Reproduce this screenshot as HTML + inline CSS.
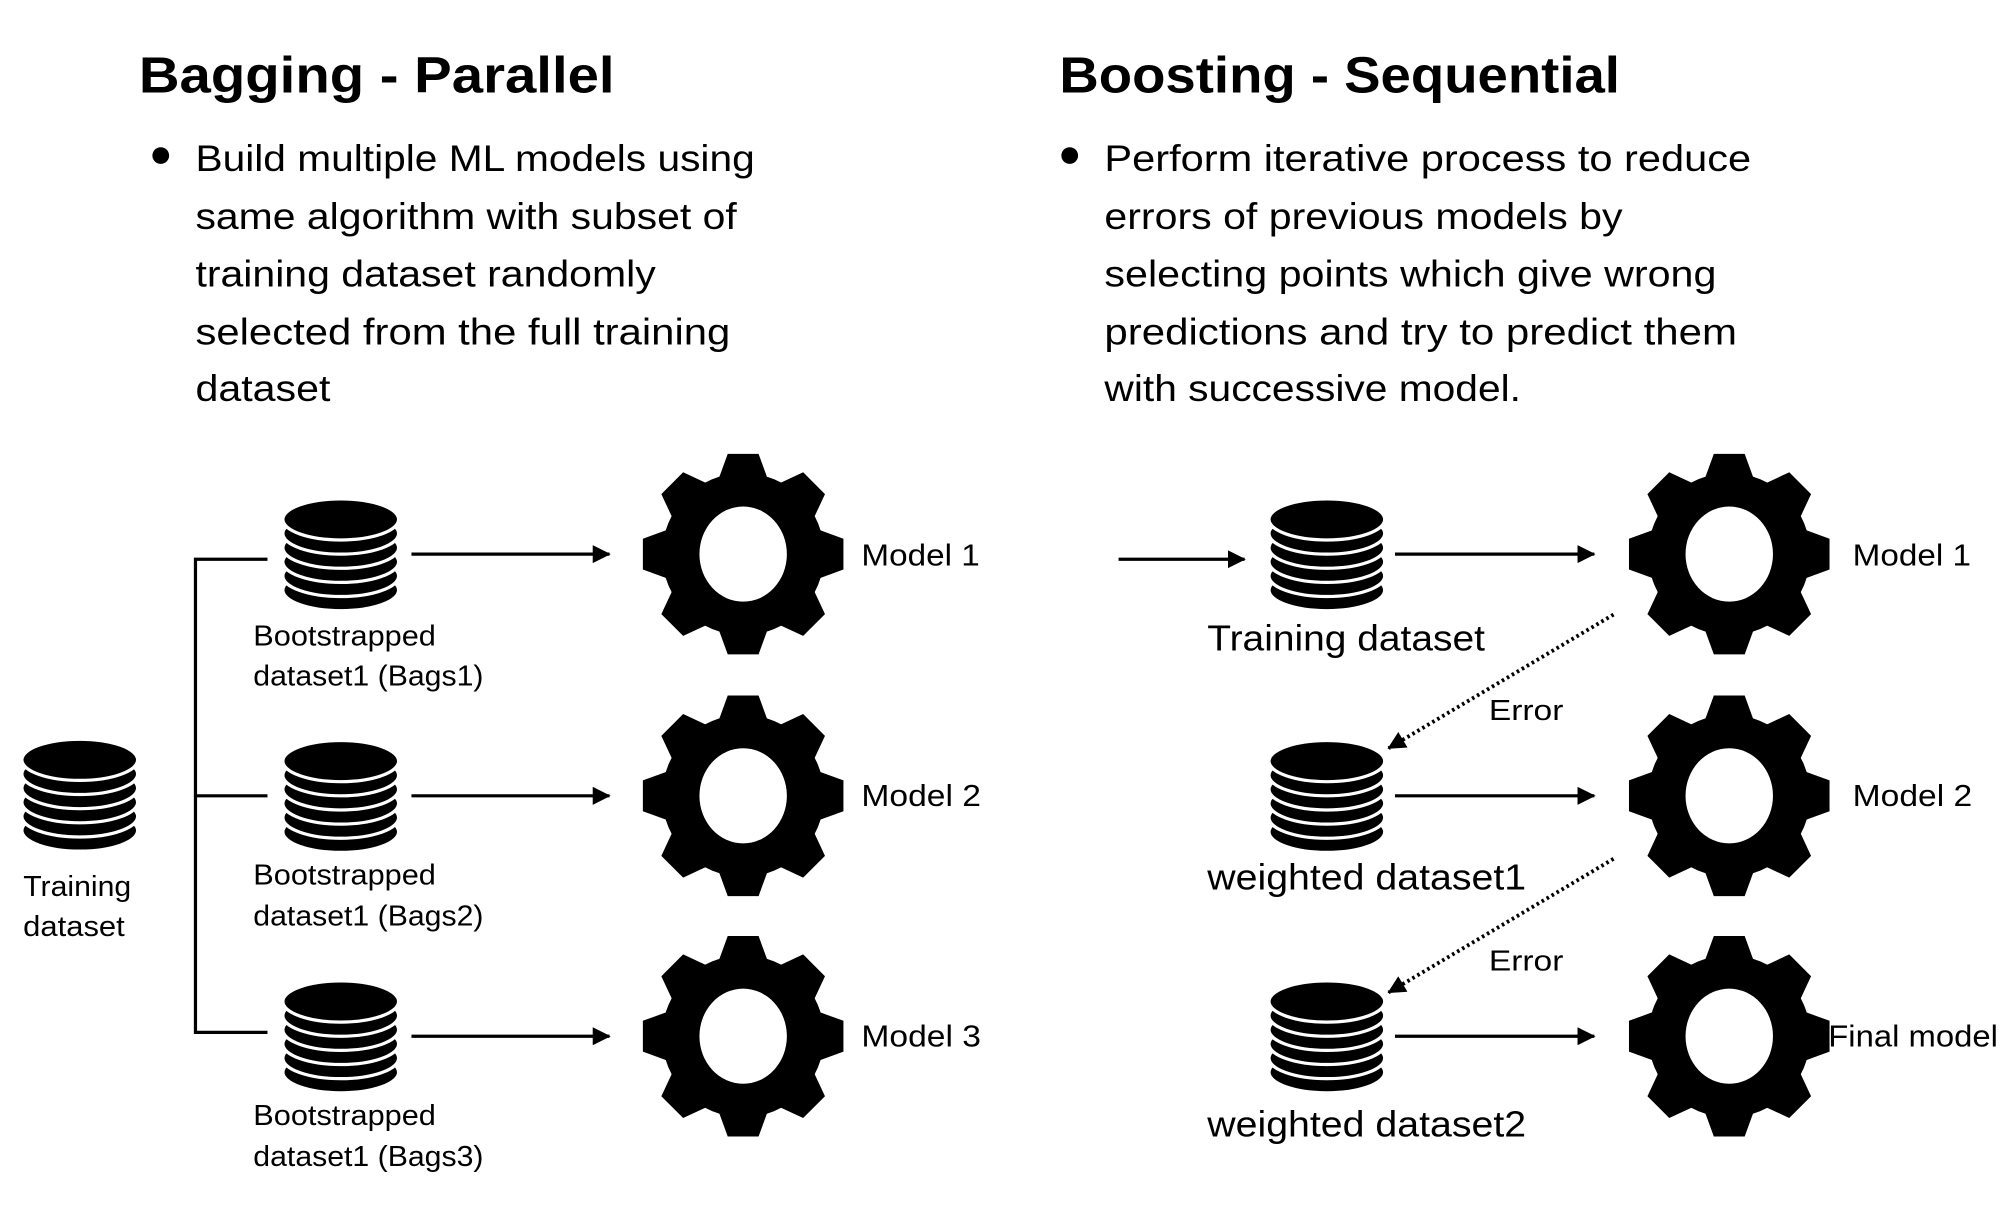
<!DOCTYPE html>
<html><head><meta charset="utf-8"><style>
html,body{margin:0;padding:0;background:#fff;}
svg{display:block;}
text{font-family:"Liberation Sans",sans-serif;fill:#000;}
</style></head><body>
<svg width="2016" height="1226" viewBox="0 0 1568 953.6" xmlns="http://www.w3.org/2000/svg">
<defs>
<g id="gear">
  <circle r="63" fill="#000"/>
  <g fill="#000">
    <polygon points="-20,-56 -12,-78 12,-78 20,-56"/>
    <polygon points="-20,-56 -12,-78 12,-78 20,-56" transform="rotate(45)"/>
    <polygon points="-20,-56 -12,-78 12,-78 20,-56" transform="rotate(90)"/>
    <polygon points="-20,-56 -12,-78 12,-78 20,-56" transform="rotate(135)"/>
    <polygon points="-20,-56 -12,-78 12,-78 20,-56" transform="rotate(180)"/>
    <polygon points="-20,-56 -12,-78 12,-78 20,-56" transform="rotate(225)"/>
    <polygon points="-20,-56 -12,-78 12,-78 20,-56" transform="rotate(270)"/>
    <polygon points="-20,-56 -12,-78 12,-78 20,-56" transform="rotate(315)"/>
  </g>
  <ellipse rx="34" ry="37" fill="#fff"/>
</g>
<g id="db" stroke="#fff" stroke-width="2.5" fill="#000">
  <ellipse cx="0" cy="71" rx="45" ry="16"/>
  <ellipse cx="0" cy="60" rx="45" ry="16"/>
  <ellipse cx="0" cy="49" rx="45" ry="16"/>
  <ellipse cx="0" cy="38" rx="45" ry="16"/>
  <ellipse cx="0" cy="27" rx="45" ry="16"/>
  <ellipse cx="0" cy="16" rx="45" ry="16"/>
</g>
<marker id="ah2" markerWidth="14" markerHeight="14" refX="13" refY="7" orient="auto" markerUnits="userSpaceOnUse" viewBox="0 0 14 14">
  <path d="M0,0 L14,7 L0,14 z" fill="#000"/>
</marker>
</defs>

<text x="108" y="72" font-size="40" font-weight="bold" textLength="370" lengthAdjust="spacingAndGlyphs">Bagging - Parallel</text>
<text x="824" y="72" font-size="40" font-weight="bold" textLength="436" lengthAdjust="spacingAndGlyphs">Boosting - Sequential</text>

<circle cx="125" cy="121" r="6.5" fill="#000"/>
<g font-size="29">
<text x="152" y="133" textLength="435" lengthAdjust="spacingAndGlyphs">Build multiple ML models using</text>
<text x="152" y="178" textLength="421" lengthAdjust="spacingAndGlyphs">same algorithm with subset of</text>
<text x="152" y="223" textLength="358" lengthAdjust="spacingAndGlyphs">training dataset randomly</text>
<text x="152" y="268" textLength="416" lengthAdjust="spacingAndGlyphs">selected from the full training</text>
<text x="152" y="312" textLength="105" lengthAdjust="spacingAndGlyphs">dataset</text>
</g>
<circle cx="832" cy="121" r="6.5" fill="#000"/>
<g font-size="29">
<text x="859" y="133" textLength="503" lengthAdjust="spacingAndGlyphs">Perform iterative process to reduce</text>
<text x="859" y="178" textLength="403" lengthAdjust="spacingAndGlyphs">errors of previous models by</text>
<text x="859" y="223" textLength="476" lengthAdjust="spacingAndGlyphs">selecting points which give wrong</text>
<text x="859" y="268" textLength="492" lengthAdjust="spacingAndGlyphs">predictions and try to predict them</text>
<text x="859" y="312" textLength="324" lengthAdjust="spacingAndGlyphs">with successive model.</text>
</g>

<use href="#db" x="62" y="575"/>
<text x="18" y="697" font-size="22" textLength="84" lengthAdjust="spacingAndGlyphs">Training</text>
<text x="18" y="728" font-size="22" textLength="79" lengthAdjust="spacingAndGlyphs">dataset</text>

<path d="M208,435 H152 V803 H208 M152,619 H208" fill="none" stroke="#000" stroke-width="2.5"/>

<use href="#db" x="265" y="388"/>
<use href="#db" x="265" y="576"/>
<use href="#db" x="265" y="763"/>
<g font-size="22">
<text x="197" y="502" textLength="142" lengthAdjust="spacingAndGlyphs">Bootstrapped</text>
<text x="197" y="533" textLength="179" lengthAdjust="spacingAndGlyphs">dataset1 (Bags1)</text>
<text x="197" y="688" textLength="142" lengthAdjust="spacingAndGlyphs">Bootstrapped</text>
<text x="197" y="720" textLength="179" lengthAdjust="spacingAndGlyphs">dataset1 (Bags2)</text>
<text x="197" y="875" textLength="142" lengthAdjust="spacingAndGlyphs">Bootstrapped</text>
<text x="197" y="907" textLength="179" lengthAdjust="spacingAndGlyphs">dataset1 (Bags3)</text>
</g>
<g stroke="#000" stroke-width="2.5" marker-end="url(#ah2)">
<line x1="320" y1="431" x2="474" y2="431"/>
<line x1="320" y1="619" x2="474" y2="619"/>
<line x1="320" y1="806" x2="474" y2="806"/>
</g>
<use href="#gear" x="578" y="431"/>
<use href="#gear" x="578" y="619"/>
<use href="#gear" x="578" y="806"/>
<g font-size="24">
<text x="670" y="440" textLength="92" lengthAdjust="spacingAndGlyphs">Model 1</text>
<text x="670" y="627" textLength="93" lengthAdjust="spacingAndGlyphs">Model 2</text>
<text x="670" y="814" textLength="93" lengthAdjust="spacingAndGlyphs">Model 3</text>
</g>

<g stroke="#000" stroke-width="2.5" marker-end="url(#ah2)">
<line x1="870" y1="435" x2="968" y2="435"/>
<line x1="1085" y1="431" x2="1240" y2="431"/>
<line x1="1085" y1="619" x2="1240" y2="619"/>
<line x1="1085" y1="806" x2="1240" y2="806"/>
</g>
<g stroke="#000" stroke-width="3" stroke-dasharray="2,2.5" marker-end="url(#ah2)">
<line x1="1255" y1="478" x2="1080" y2="582"/>
<line x1="1255" y1="668" x2="1080" y2="772"/>
</g>
<use href="#db" x="1032" y="388"/>
<use href="#db" x="1032" y="576"/>
<use href="#db" x="1032" y="763"/>
<g font-size="28">
<text x="939" y="506" textLength="216" lengthAdjust="spacingAndGlyphs">Training dataset</text>
<text x="939" y="692" textLength="248" lengthAdjust="spacingAndGlyphs">weighted dataset1</text>
<text x="939" y="884" textLength="248" lengthAdjust="spacingAndGlyphs">weighted dataset2</text>
</g>
<g font-size="22">
<text x="1158" y="560" textLength="58" lengthAdjust="spacingAndGlyphs">Error</text>
<text x="1158" y="755" textLength="58" lengthAdjust="spacingAndGlyphs">Error</text>
</g>
<use href="#gear" x="1345" y="431"/>
<use href="#gear" x="1345" y="619"/>
<use href="#gear" x="1345" y="806"/>
<g font-size="24">
<text x="1441" y="440" textLength="92" lengthAdjust="spacingAndGlyphs">Model 1</text>
<text x="1441" y="627" textLength="93" lengthAdjust="spacingAndGlyphs">Model 2</text>
<text x="1422" y="814" textLength="132" lengthAdjust="spacingAndGlyphs">Final model</text>
</g>
</svg>
</body></html>
